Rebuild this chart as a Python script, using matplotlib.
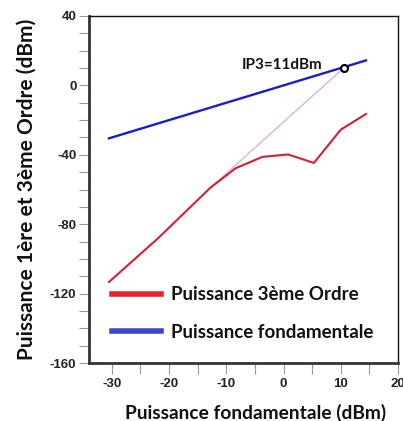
import matplotlib
matplotlib.use("Agg")
import matplotlib.pyplot as plt
from matplotlib.lines import Line2D
import numpy as np

# Data
fund_x = [-30.5, 14.4]
fund_y = [-30.5, 14.4]
third_x = [-30.5, -21.9, -12.8, -8.4, -3.7, 0.8, 5.3, 10.0, 14.4]
third_y = [-113.3, -88.0, -59.0, -47.8, -41.2, -39.8, -44.7, -25.5, -16.5]
extrap_x = [-12.8, 10.5]
extrap_y = [-59.0, 10.0]
ip3_x = [10.5]
ip3_y = [10.0]
ip3_label = "IP3=11dBm"
xticks = [-30, -20, -10, 0, 10, 20]
yticks = [40, 0, -40, -80, -120, -160]

plt.rcParams['font.family'] = ['Lato', 'DejaVu Sans']

fig = plt.figure(figsize=(4.03, 4.21), dpi=100)
ax = fig.add_axes([89/403, 1-363/421, (398-89)/403, (363-16)/421])

ax.plot(extrap_x, extrap_y, color='#e2a6e2', lw=0.9, zorder=2)
ax.plot(fund_x, fund_y, color='#1c1ccc', lw=1.7, zorder=3)
ax.plot(third_x, third_y, color='#d81e34', lw=1.5, zorder=3)
ax.plot(ip3_x, ip3_y, 'o', ms=5, mfc='white', mec='black', mew=1.6, zorder=5)
ax.annotate(ip3_label, (ip3_x[0], ip3_y[0]), xytext=(-15, 2), textcoords='offset points',
            ha='right', va='center', fontsize=11, fontweight='bold', color='#111111')

ax.set_xlim(-34, 20)
ax.set_ylim(-160, 40)
ax.set_xticks(xticks)
ax.set_xticks(np.arange(-30, 21, 5), minor=True)
ax.set_yticks(yticks)
ax.set_yticks(np.arange(-160, 41, 10), minor=True)
ax.set_xticklabels([str(t) for t in xticks], family=['Liberation Sans'], fontweight='bold', fontsize=9.5, color='#222222')
ax.set_yticklabels([str(t) for t in yticks], family=['Liberation Sans'], fontweight='bold', fontsize=9.5, color='#222222')
ax.tick_params(axis='both', which='both', direction='out', color='#999999', width=0.8)
ax.tick_params(axis='y', which='both', length=7, pad=2)
ax.tick_params(axis='x', which='both', length=8, pad=3)

for s in ['top', 'right']:
    ax.spines[s].set_linewidth(1.0)
    ax.spines[s].set_color('#111111')
for s in ['left', 'bottom']:
    ax.spines[s].set_linewidth(2.0)
    ax.spines[s].set_color('#333333')

ax.set_xlabel("Puissance fondamentale (dBm)", fontsize=13.8, fontweight='bold', color='#111111', labelpad=10)
ax.xaxis.label.set_x(0.54)
ax.set_ylabel("Puissance 1ère et 3ème Ordre (dBm)", fontsize=15, fontweight='bold', color='#111111')
ax.yaxis.set_label_coords(-0.17, 0.5)

handles = [Line2D([], [], color='#e8202a', lw=4),
           Line2D([], [], color='#4048c8', lw=4)]
ax.legend(handles, ["Puissance 3ème Ordre", "Puissance fondamentale"],
          loc='lower left', bbox_to_anchor=(0.02, 0.015), frameon=False,
          prop={'family': 'Lato', 'weight': 'bold', 'size': 13.5},
          handlelength=2.6, handletextpad=0.55, labelspacing=1.1, labelcolor='#111111')

fig.savefig("out.png", dpi=100)
